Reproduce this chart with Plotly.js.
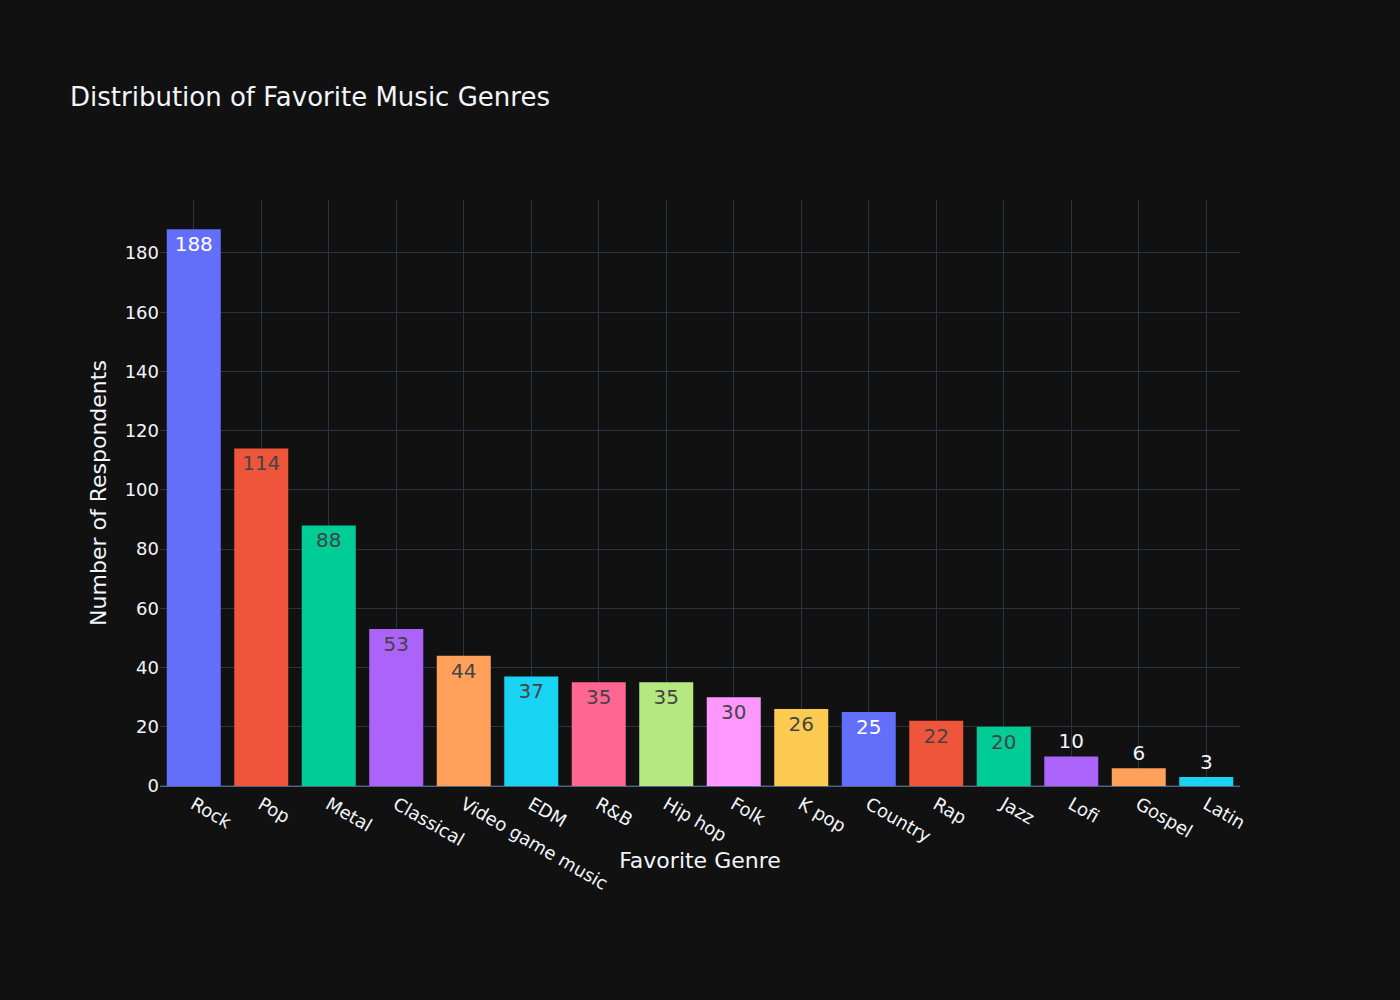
<!DOCTYPE html>
<html><head><meta charset="utf-8">
<script src="https://cdn.plot.ly/plotly-3.0.1.min.js"></script>
<style>body{margin:0;background:#111}</style></head>
<body><div id="c" style="width:1400px;height:1000px"></div>
<script>
const genres = ["Rock","Pop","Metal","Classical","Video game music","EDM","R&B","Hip hop","Folk","K pop","Country","Rap","Jazz","Lofi","Gospel","Latin"];
const counts = [188,114,88,53,44,37,35,35,30,26,25,22,20,10,6,3];
const palette = ["#636efa","#EF553B","#00cc96","#ab63fa","#FFA15A","#19d3f3","#FF6692","#B6E880","#FF97FF","#FECB52"];
const colors = genres.map((g,i)=>palette[i%palette.length]);
Plotly.newPlot('c',[{
  type:'bar', x:genres, y:counts, text:counts.map(String), textposition:'auto',
  marker:{color:colors}, textfont:{size:20}
}],{
  template:'plotly_dark',
  paper_bgcolor:'#111111', plot_bgcolor:'#111111',
  font:{family:'DejaVu Sans, sans-serif', size:18, color:'#f2f5fa'},
  title:{text:'Distribution of Favorite Music Genres', x:0.05, y:0.912, font:{size:26}},
  margin:{l:160,r:160,t:200,b:214},
  xaxis:{title:{text:'Favorite Genre', font:{size:22}}, tickangle:30, gridcolor:'#283442', linecolor:'#506784'},
  yaxis:{title:{text:'Number of Respondents', font:{size:22}}, gridcolor:'#283442', zerolinecolor:'#283442', zerolinewidth:2},
  showlegend:false, bargap:0.2
},{displayModeBar:false});
</script></body></html>
